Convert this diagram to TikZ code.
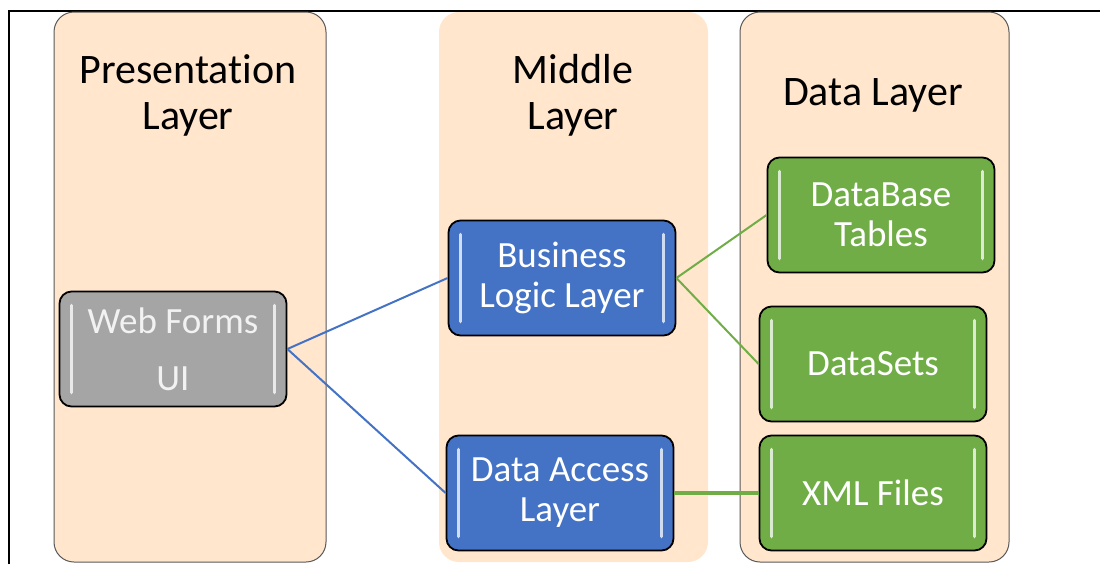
\documentclass[tikz,border=0pt]{standalone}
\usepackage{fontspec}
\setmainfont[Ligatures=NoCommon]{Carlito}
\usepackage{tikz}
\usetikzlibrary{positioning}
\definecolor{tierpeach}{HTML}{FFE6CC}
\definecolor{tierblue}{HTML}{4472C4}
\definecolor{tiergreen}{HTML}{70AD47}
\definecolor{tiergray}{HTML}{A5A5A5}
\definecolor{tierrim}{HTML}{595959}

\tikzset{
  layerpanel/.style={fill=tierpeach,rounded corners=10pt},
  layertitle/.style={align=center,font=\fontsize{21}{23}\selectfont},
  glossbox/.style={draw=black,line width=0.9pt,rounded corners=6pt,fill=#1,text=white,
    minimum width=113.5pt,minimum height=57.5pt,inner sep=0pt,align=center,
    font=\fontsize{18.5}{20}\selectfont,
    path picture={
      \draw[#1!25!white,line width=1.8pt,line cap=round]
        ([xshift=6pt,yshift=-7pt]path picture bounding box.north west) --
        ([xshift=6pt,yshift=7pt]path picture bounding box.south west)
        ([xshift=-6pt,yshift=-7pt]path picture bounding box.north east) --
        ([xshift=-6pt,yshift=7pt]path picture bounding box.south east);
    }},
  tierlink/.style={line width=1pt}
}

\begin{document}
\begin{tikzpicture}[x=0.5pt,y=-0.5pt]
  \useasboundingbox (0,0) rectangle (1100,564);
  % frame lines
  \draw[line width=0.8pt] (9,564) -- (9,11) -- (1100,11);

  % layer panels
  \draw[layerpanel,draw=tierrim,line width=0.5pt] (54,12) rectangle (326,562);
  \draw[layerpanel,draw=none] (439,12) rectangle (708,562);
  \draw[layerpanel,draw=tierrim,line width=0.5pt] (740,12) rectangle (1009,562);

  \node[layertitle] (presTitle) at (188,95) {Presentation\\Layer};
  \node[layertitle] (midTitle) at (573,95) {Middle\\Layer};
  \node[layertitle] (dataTitle) at (873,95) {Data Layer};

  % boxes
  \node[glossbox=tiergray,text=white!95!black,font=\fontsize{18.5}{28.5}\selectfont] (web) at (173,349) {Web Forms\\UI};
  \node[glossbox=tierblue] (bll) at (562,278) {Business\\Logic Layer};
  \node[glossbox=tierblue] (dal) at (560,493) {Data Access\\Layer};
  \node[glossbox=tiergreen] (dbt) at (881,215) {DataBase\\Tables};
  \node[glossbox=tiergreen] (dst) at (873,364) {DataSets};
  \node[glossbox=tiergreen] (xml) at (873,493) {XML Files};

  % links
  \draw[tierlink,draw=tierblue] (web.east) -- (bll.west);
  \draw[tierlink,draw=tierblue] (web.east) -- (dal.west);
  \draw[tierlink,draw=tiergreen] (bll.east) -- (dbt.west);
  \draw[tierlink,draw=tiergreen] (bll.east) -- (dst.west);
  \draw[tierlink,draw=tiergreen,line width=1.6pt] (dal.east) -- (xml.west);
\end{tikzpicture}
\end{document}
